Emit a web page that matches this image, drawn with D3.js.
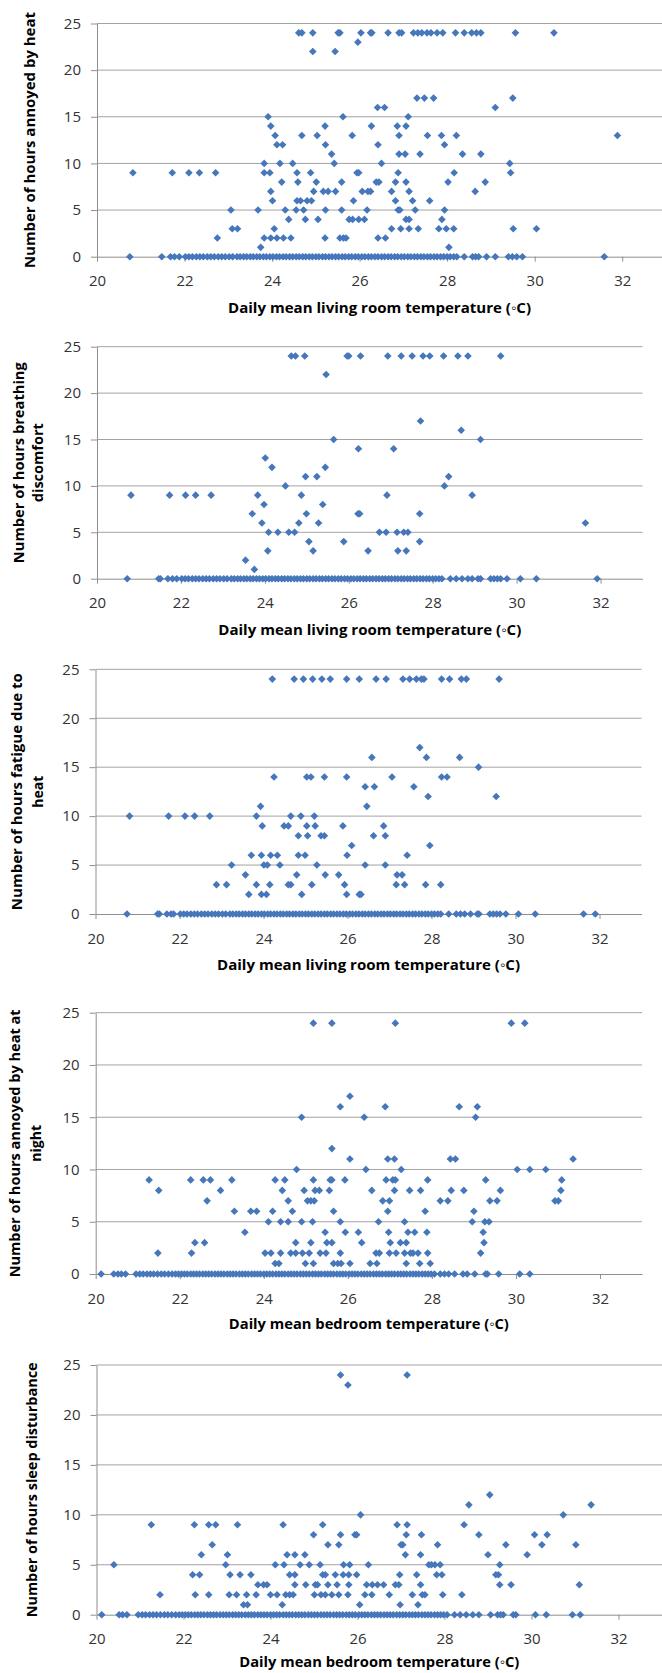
<!DOCTYPE html>
<html>
<head>
<meta charset="utf-8">
<script src="https://cdn.jsdelivr.net/npm/d3@7"></script>
<style>
  body { margin: 0; background: #fff; }
  svg text { font-family: "Open Sans", sans-serif; }
</style>
</head>
<body>
<div class="canvas"></div>
<script>
const tempTicks = [20, 22, 24, 26, 28, 30, 32];
const hourTicks = [0, 5, 10, 15, 20, 25];

// solid run of zero-hour days along the x axis
const livingBand = [22.02, 22.1, 22.18, 22.27, 22.35, 22.43, 22.52, 22.6, 22.68, 22.77, 22.85, 22.93, 23.02, 23.1,
  23.2, 23.27, 23.35, 23.42, 23.5, 23.57, 23.65, 23.72, 23.8, 23.87, 23.95, 24.02, 24.1, 24.17, 24.25, 24.32,
  24.4, 24.47, 24.55, 24.62, 24.7, 24.77, 24.85, 24.92, 25.0, 25.07, 25.15, 25.22, 25.3, 25.37, 25.45, 25.52,
  25.6, 25.67, 25.75, 25.82, 25.9, 25.97, 26.05, 26.12, 26.2, 26.27, 26.35, 26.42, 26.5, 26.57, 26.65, 26.72,
  26.8, 26.87, 26.95, 27.02, 27.1, 27.17, 27.25, 27.32, 27.4, 27.47, 27.55, 27.62, 27.7, 27.77, 27.85, 27.92,
  28.0, 28.07, 28.15, 28.22];
const bedroomBand = [20.96, 21.05, 21.13, 21.22, 21.3, 21.38, 21.47, 21.56, 21.64, 21.73, 21.82, 21.9, 21.97,
  22.04, 22.11, 22.18, 22.26, 22.33, 22.4, 22.47, 22.55, 22.62, 22.69, 22.76, 22.84, 22.91, 22.98, 23.05, 23.13,
  23.2, 23.27, 23.34, 23.42, 23.49, 23.56, 23.63, 23.71, 23.78, 23.85, 23.92, 24.0, 24.07, 24.14, 24.21, 24.29,
  24.36, 24.43, 24.5, 24.58, 24.65, 24.72, 24.79, 24.87, 24.94, 25.01, 25.08, 25.16, 25.23, 25.3, 25.37, 25.45,
  25.52, 25.59, 25.66, 25.74, 25.81, 25.88, 25.95, 26.03, 26.1, 26.17, 26.24, 26.32, 26.39, 26.46, 26.53, 26.61,
  26.68, 26.75, 26.82, 26.9, 26.97, 27.04, 27.11, 27.19, 27.26, 27.33, 27.4, 27.48, 27.55, 27.62, 27.69, 27.77,
  27.84, 27.91, 27.98, 28.06];

// [hours, temperatures]
const annoyedHeat = [
  [24, [24.61, 24.68, 24.93, 25.51, 25.55, 26.03, 26.25, 26.28, 26.65, 26.9, 26.96, 27.23, 27.33, 27.42, 27.54, 27.63, 27.77, 27.9, 28.19, 28.39, 28.56, 28.67, 28.77, 29.56, 30.44]],
  [23, [25.96]],
  [22, [24.93, 25.44]],
  [17, [27.31, 27.48, 27.69, 29.5]],
  [16, [26.41, 26.57, 29.1]],
  [15, [23.91, 25.62, 27.11]],
  [14, [23.97, 25.21, 26.27, 26.86, 27.06]],
  [13, [24.07, 24.68, 25.03, 25.83, 26.9, 27.55, 27.87, 28.21, 31.89]],
  [12, [24.11, 24.24, 25.22, 26.42, 27.94]],
  [11, [25.36, 26.9, 27.04, 27.38, 28.35, 28.77]],
  [10, [23.82, 24.18, 24.47, 25.42, 26.5, 29.43]],
  [9, [20.82, 21.72, 22.1, 22.34, 22.71, 23.82, 23.95, 24.57, 24.88, 25.94, 25.98, 26.88, 28.16, 29.45]],
  [8, [24.22, 24.59, 25.01, 25.59, 26.38, 26.44, 26.82, 27.06, 28.02, 28.87]],
  [7, [23.97, 24.95, 25.17, 25.28, 25.45, 26.06, 26.19, 26.25, 26.73, 27.13, 28.64]],
  [6, [24.01, 24.57, 24.65, 24.8, 24.9, 25.86, 26.82, 27.21, 27.6]],
  [5, [23.06, 23.68, 24.3, 24.55, 24.72, 25.22, 25.59, 26.17, 26.88, 26.92, 27.27, 27.94]],
  [4, [24.38, 24.76, 25.05, 25.76, 25.84, 25.98, 26.11, 27.06, 27.13, 27.88]],
  [3, [23.09, 23.21, 24.05, 26.73, 26.94, 27.13, 27.34, 27.81, 27.98, 28.15, 29.51, 30.04]],
  [2, [22.75, 23.82, 23.97, 24.11, 24.26, 24.43, 25.21, 25.55, 25.63, 25.69, 26.42, 26.59]],
  [1, [23.74, 28.04]],
  [0, livingBand.concat([20.75, 21.48, 21.68, 21.77, 21.88, 28.39, 28.58, 28.65, 28.72, 28.9, 29.1, 29.4, 29.49, 29.59, 29.72, 31.59])]
];

const breathing = [
  [24, [24.63, 24.73, 24.95, 25.96, 26.0, 26.28, 26.93, 27.25, 27.51, 27.77, 27.93, 28.26, 28.6, 28.84, 29.62]],
  [22, [25.46]],
  [17, [27.71]],
  [16, [28.68]],
  [15, [25.64, 29.14]],
  [14, [26.23, 27.07]],
  [13, [24.01]],
  [12, [24.17, 25.44]],
  [11, [24.97, 25.24, 28.38]],
  [10, [24.49, 28.28]],
  [9, [20.81, 21.73, 22.11, 22.35, 22.72, 23.83, 24.87, 26.91, 28.94]],
  [8, [23.98, 25.38]],
  [7, [23.7, 24.99, 26.22, 26.26, 27.69]],
  [6, [23.93, 24.81, 25.28, 31.64]],
  [5, [24.09, 24.31, 24.57, 24.71, 26.73, 26.89, 27.15, 27.31, 27.41]],
  [4, [25.05, 25.88, 27.69]],
  [3, [24.07, 25.15, 26.46, 27.17, 27.37]],
  [2, [23.54]],
  [1, [23.75]],
  [0, livingBand.concat([20.72, 21.47, 21.51, 21.69, 21.8, 21.9, 28.42, 28.56, 28.7, 28.84, 28.94, 29.08, 29.14, 29.38, 29.46, 29.54, 29.62, 29.77, 30.09, 30.47, 31.92])]
];

const fatigue = [
  [24, [24.21, 24.73, 24.95, 25.17, 25.39, 25.59, 25.98, 26.28, 26.68, 26.92, 27.32, 27.48, 27.64, 27.76, 27.82, 28.24, 28.43, 28.71, 28.83, 29.61]],
  [17, [27.72]],
  [16, [26.58, 27.88, 28.67]],
  [15, [29.12]],
  [14, [24.25, 25.03, 25.13, 25.45, 25.98, 27.06, 28.24, 28.37]],
  [13, [26.42, 26.64, 27.58]],
  [12, [27.92, 29.54]],
  [11, [23.93, 26.46]],
  [10, [20.81, 21.74, 22.13, 22.36, 22.72, 23.83, 24.65, 24.89, 25.21]],
  [9, [23.97, 24.49, 24.59, 25.03, 25.23, 25.89, 26.86]],
  [8, [24.83, 25.05, 25.37, 25.45, 26.62, 26.9]],
  [7, [26.1, 27.96]],
  [6, [23.71, 23.95, 24.17, 24.33, 24.83, 24.99, 25.99, 27.42]],
  [5, [23.24, 24.01, 24.09, 24.39, 25.27, 26.42, 26.9]],
  [4, [23.57, 24.79, 25.47, 25.79, 27.18, 27.3]],
  [3, [22.88, 23.12, 23.83, 24.15, 24.59, 24.65, 25.15, 25.93, 27.16, 27.36, 27.86, 28.22]],
  [2, [23.65, 23.95, 24.07, 24.91, 25.98, 26.28, 26.32]],
  [0, livingBand.concat([20.75, 21.48, 21.52, 21.7, 21.8, 21.86, 28.41, 28.59, 28.69, 28.79, 28.93, 29.09, 29.13, 29.39, 29.47, 29.55, 29.63, 29.77, 30.07, 30.47, 31.62, 31.9])]
];

const annoyedNight = [
  [24, [25.18, 25.62, 27.13, 29.89, 30.21]],
  [17, [26.05]],
  [16, [25.82, 26.89, 28.65, 29.08]],
  [15, [24.9, 26.39, 29.04]],
  [12, [25.62]],
  [11, [26.05, 26.95, 27.11, 28.44, 28.56, 31.36]],
  [10, [24.78, 26.43, 27.27, 30.03, 30.33, 30.71]],
  [9, [21.27, 22.26, 22.56, 22.73, 23.24, 24.27, 24.5, 25.18, 25.58, 25.62, 25.93, 26.91, 27.07, 27.13, 27.9, 29.28, 31.09]],
  [8, [21.5, 22.97, 24.44, 24.96, 25.22, 25.32, 25.56, 26.57, 27.11, 27.47, 27.73, 28.46, 28.76, 29.63, 31.07]],
  [7, [22.65, 24.58, 25.04, 25.12, 25.2, 26.83, 26.99, 28.2, 28.38, 29.38, 29.55, 30.93, 31.01]],
  [6, [23.3, 23.69, 23.83, 24.21, 24.68, 25.66, 26.95, 27.84, 29.0]],
  [5, [24.11, 24.4, 24.58, 24.9, 25.16, 25.82, 26.73, 27.35, 28.96, 29.26, 29.36]],
  [4, [23.55, 25.46, 25.94, 26.25, 26.97, 27.43, 27.59, 27.88, 29.22]],
  [3, [22.36, 22.59, 24.76, 25.12, 25.5, 25.62, 26.33, 27.01, 27.25, 27.39, 29.24]],
  [2, [21.48, 22.28, 24.03, 24.17, 24.4, 24.64, 24.76, 24.92, 25.08, 25.34, 25.48, 25.82, 26.67, 26.75, 26.99, 27.15, 27.35, 27.49, 27.55, 27.67, 27.9, 29.16]],
  [1, [24.27, 24.36, 24.99, 25.18, 25.66, 25.76, 25.84, 26.05, 26.53, 26.69, 27.39, 27.71, 27.96]],
  [0, bedroomBand.concat([20.13, 20.43, 20.53, 20.61, 20.71, 28.2, 28.3, 28.4, 28.54, 28.74, 28.84, 29.02, 29.28, 29.32, 29.59, 30.09, 30.33])]
];

const sleepDisturb = [
  [24, [25.61, 27.14]],
  [23, [25.78]],
  [12, [29.04]],
  [11, [28.56, 31.37]],
  [10, [26.07, 30.73]],
  [9, [21.26, 22.25, 22.58, 22.74, 23.24, 24.29, 25.2, 26.91, 27.14, 28.45]],
  [8, [24.99, 25.61, 25.94, 25.98, 27.12, 27.47, 28.79, 30.07, 30.36]],
  [7, [22.66, 25.32, 25.57, 27.0, 27.04, 27.84, 29.41, 30.24, 31.02]],
  [6, [22.41, 23.01, 24.38, 24.56, 24.79, 27.1, 27.45, 29.0, 29.9]],
  [5, [20.4, 22.97, 24.11, 24.31, 24.68, 24.89, 25.14, 25.68, 25.82, 26.25, 27.64, 27.7, 27.78, 27.9, 29.27]],
  [4, [22.21, 22.37, 23.07, 23.3, 23.55, 24.44, 24.56, 25.2, 25.26, 25.49, 25.67, 25.8, 25.98, 26.97, 27.36, 27.82, 27.94, 29.18, 29.24]],
  [3, [23.71, 23.84, 23.92, 24.56, 24.81, 25.03, 25.08, 25.32, 25.53, 25.8, 26.21, 26.34, 26.46, 26.6, 26.87, 26.95, 27.45, 29.27, 29.53, 31.1]],
  [2, [21.46, 22.27, 22.58, 23.05, 23.22, 23.45, 23.67, 24.0, 24.15, 24.35, 24.44, 24.52, 25.01, 25.16, 25.26, 25.41, 25.57, 25.78, 26.17, 26.33, 26.73, 27.26, 27.49, 27.55, 27.96, 28.4]],
  [1, [23.38, 23.47, 24.27, 26.05, 26.98, 27.39]],
  [0, bedroomBand.concat([20.12, 20.52, 20.6, 20.7, 28.23, 28.36, 28.5, 28.65, 28.79, 29.06, 29.22, 29.29, 29.35, 29.58, 29.64, 30.09, 30.34, 30.94, 31.12])]
];

const livingTitle = 'Daily mean living room temperature (\u25E6C)';
const bedroomTitle = 'Daily mean bedroom temperature (\u25E6C)';

const panels = [
  { data: annoyedHeat, yTitle: ['Number of hours annoyed by heat'], yLen: [256], yTitleX: [30],
    xTitle: livingTitle, xLen: 303, titleGap: 56, left: 97, right: 666, top: 23.5, bottom: 256.7 },
  { data: breathing, yTitle: ['Number of hours breathing', 'discomfort'], yLen: [201, 79], yTitleX: [19, 38],
    xTitle: livingTitle, xLen: 303, titleGap: 56, left: 97, right: 642.5, top: 346.7, bottom: 578.7 },
  { data: fatigue, yTitle: ['Number of hours fatigue due to', 'heat'], yLen: [237, 32], yTitleX: [17, 38],
    xTitle: livingTitle, xLen: 303, titleGap: 56, left: 95.5, right: 641.5, top: 669.3, bottom: 914 },
  { data: annoyedNight, yTitle: ['Number of hours annoyed by heat at', 'night'], yLen: [268, 37], yTitleX: [15, 36],
    xTitle: bedroomTitle, xLen: 280, titleGap: 55, left: 95.7, right: 642, top: 1012.7, bottom: 1274 },
  { data: sleepDisturb, yTitle: ['Number of hours sleep disturbance'], yLen: [255], yTitleX: [31.5],
    xTitle: bedroomTitle, xLen: 280, titleGap: 52.5, left: 96.5, right: 662, top: 1365, bottom: 1614.7 }
];

const svg = d3.select('.canvas')
  .append('svg')
  .attr('width', 662)
  .attr('height', 1673);

const diamond = d3.symbol().type(d3.symbolSquare).size(29);

panels.forEach(p => {
  const x = d3.scaleLinear().domain([20, 33]).range([p.left, p.right]);
  const y = d3.scaleLinear().domain([0, 25]).range([p.bottom, p.top]);
  const g = svg.append('g');

  // horizontal gridlines
  g.selectAll('line.grid')
    .data(hourTicks.slice(1))
    .enter().append('line')
    .attr('class', 'grid')
    .attr('x1', p.left).attr('x2', p.right)
    .attr('y1', d => y(d)).attr('y2', d => y(d))
    .attr('stroke', '#a3a3a3');

  const yAxis = g.append('g')
    .attr('transform', `translate(${p.left},0)`)
    .call(d3.axisLeft(y).tickValues(hourTicks).tickSize(6).tickSizeOuter(0).tickPadding(10));

  const xAxis = g.append('g')
    .attr('transform', `translate(0,${p.bottom})`)
    .call(d3.axisBottom(x).tickValues(tempTicks).tickSize(5).tickSizeOuter(0).tickPadding(14));

  [yAxis, xAxis].forEach(a => {
    a.selectAll('path, line').attr('stroke', '#8f8f8f');
    a.selectAll('text').attr('fill', '#333').style('font-size', '15px').style('font-family', '"Open Sans", sans-serif');
  });

  // points
  const pts = p.data.flatMap(([h, temps]) => temps.map(t => ({ t, h })));
  g.selectAll('path.pt')
    .data(pts)
    .enter().append('path')
    .attr('class', 'pt')
    .attr('d', diamond)
    .attr('transform', d => `translate(${x(d.t)},${y(d.h)}) rotate(45)`)
    .attr('fill', '#4677bb');

  // axis titles
  const cx = (p.left + Math.min(p.right, 662)) / 2;
  g.append('text')
    .attr('x', cx)
    .attr('y', p.bottom + p.titleGap)
    .attr('text-anchor', 'middle')
    .attr('textLength', p.xLen)
    .attr('lengthAdjust', 'spacingAndGlyphs')
    .style('font-size', '15px')
    .style('font-weight', 'bold')
    .text(p.xTitle);

  const cy = (p.top + p.bottom) / 2;
  p.yTitle.forEach((line, i) => {
    g.append('text')
      .attr('transform', `translate(${p.yTitleX[i]},${cy}) rotate(-90)`)
      .attr('dy', '0.35em')
      .attr('text-anchor', 'middle')
      .attr('textLength', p.yLen[i])
      .attr('lengthAdjust', 'spacingAndGlyphs')
      .style('font-size', '14.5px')
      .style('font-weight', 'bold')
      .text(line);
  });
});
</script>
</body>
</html>
